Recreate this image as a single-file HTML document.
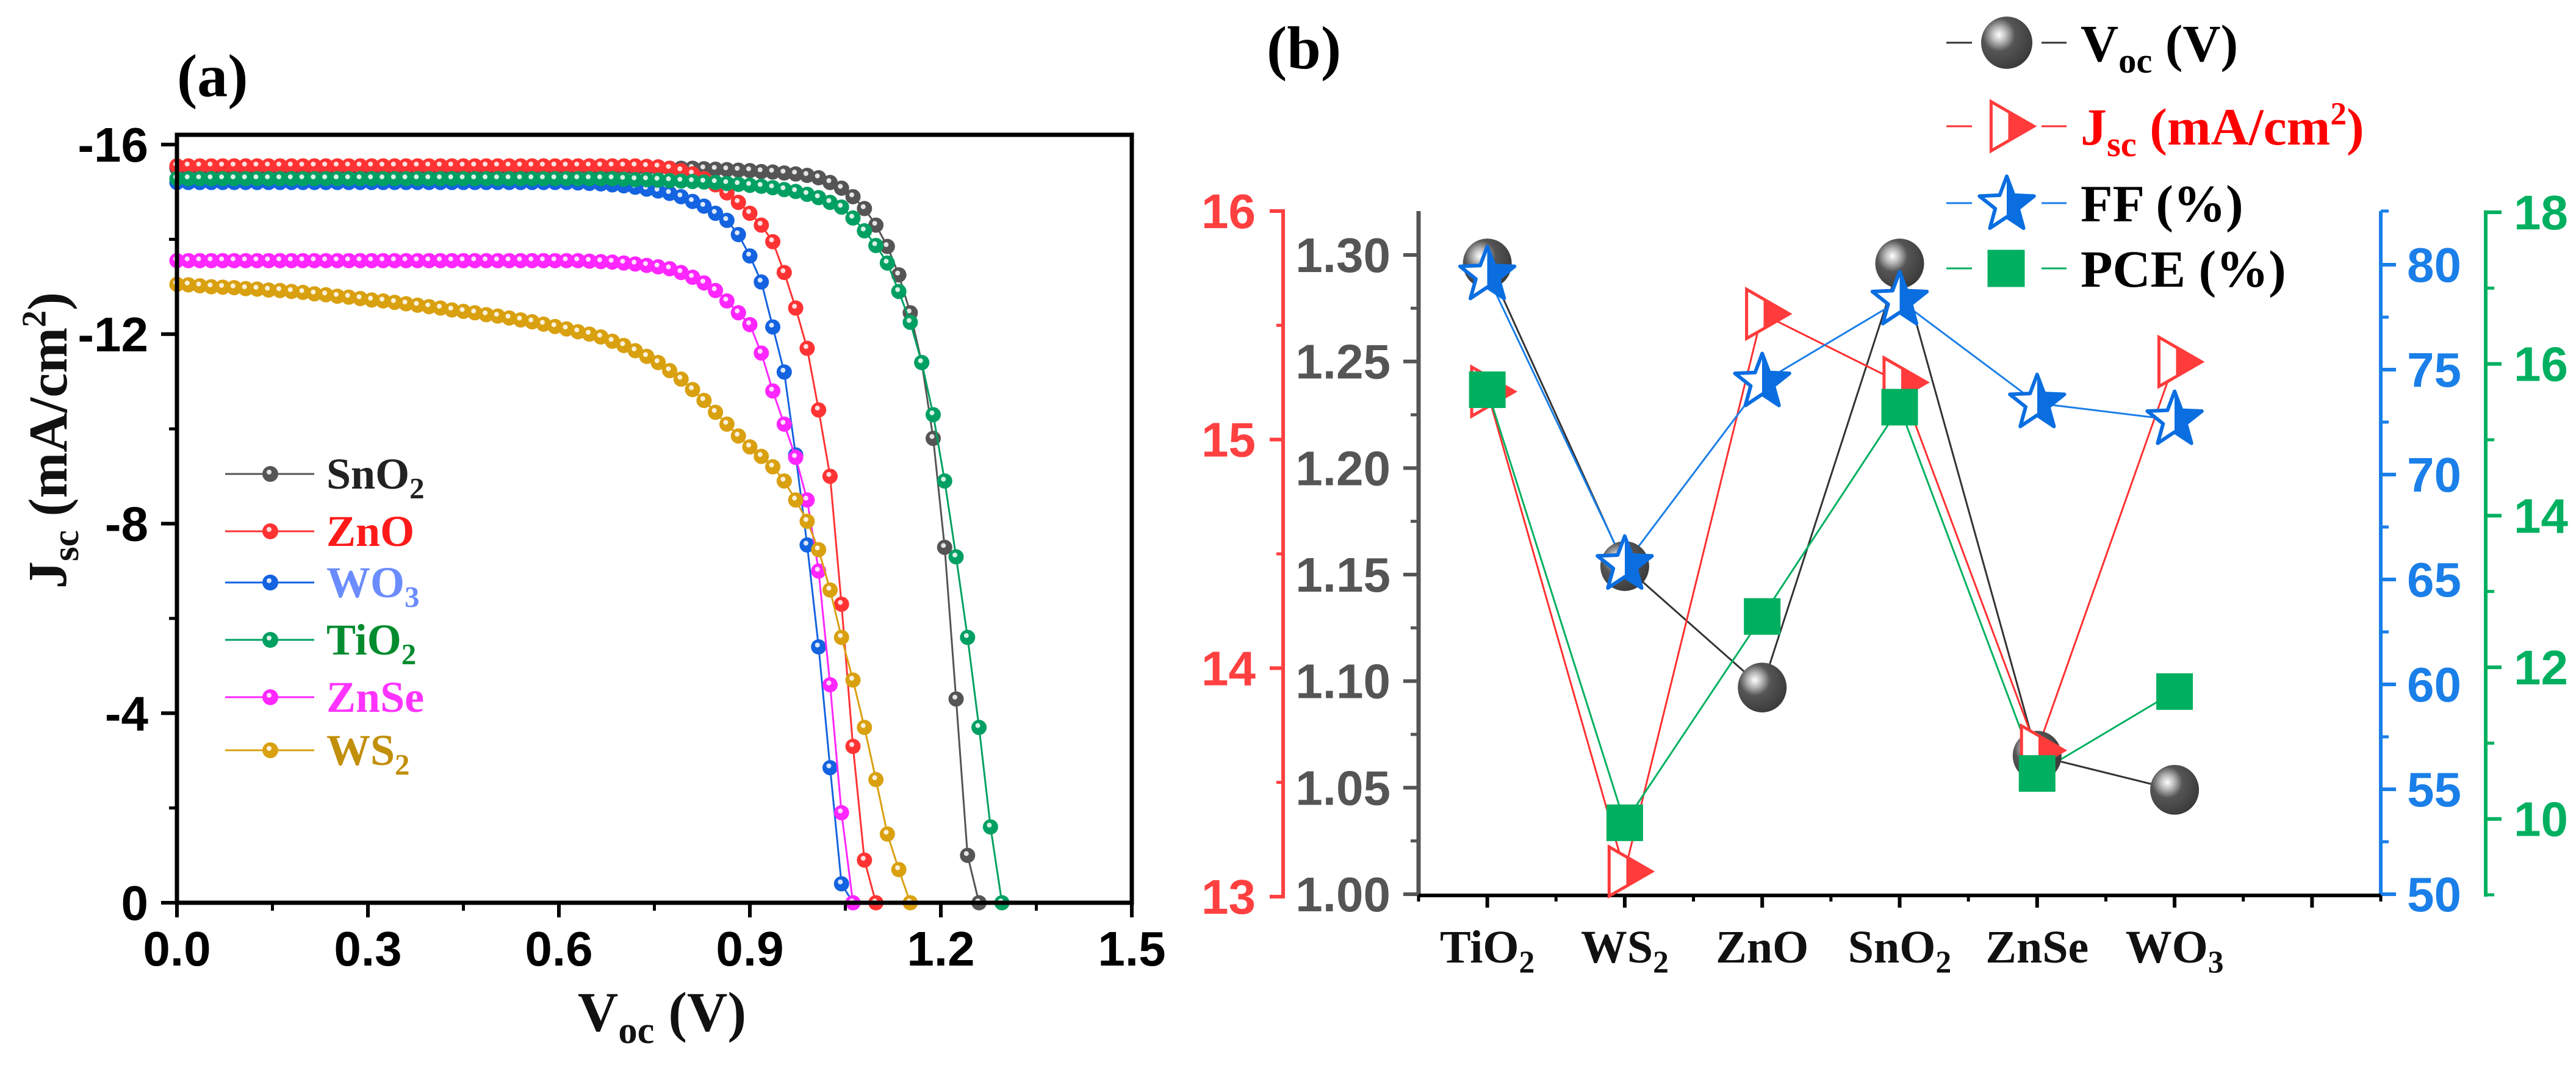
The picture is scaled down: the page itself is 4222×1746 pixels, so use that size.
<!DOCTYPE html>
<html><head><meta charset="utf-8">
<style>
html,body{margin:0;padding:0;background:#fff;}
svg{display:block;}
text{font-family:"Liberation Serif",serif;font-weight:bold;}
.num{font-family:"Liberation Sans",sans-serif;font-weight:bold;}
</style></head>
<body>
<svg id="fig" width="4222" height="1746" viewBox="0 0 4222 1746" xmlns="http://www.w3.org/2000/svg">
<defs>
<radialGradient id="sph" cx="0.35" cy="0.35" r="0.7">
<stop offset="0" stop-color="#ffffff"/><stop offset="0.2" stop-color="#bbbbbb"/><stop offset="0.45" stop-color="#555555"/><stop offset="1" stop-color="#3a3a3a"/>
</radialGradient>
<linearGradient id="halfBlue" x1="0" x2="1" y1="0" y2="0">
<stop offset="0.5" stop-color="#ffffff"/><stop offset="0.5" stop-color="#0a6ee0"/>
</linearGradient>
<linearGradient id="halfRed" x1="0" x2="1" y1="0" y2="0">
<stop offset="0.4" stop-color="#ffffff"/><stop offset="0.4" stop-color="#ff3b3b"/>
</linearGradient>
</defs>
<g id="panelA"></g>
<g id="panelB"></g>
</svg>
<script>
// ---------- Panel (a) data: J-V curves, voltage grid step 0.018 V ----------
const vStep = 0.018;
const xTicksA = [0.0, 0.3, 0.6, 0.9, 1.2, 1.5];
const yTicksA = [-16, -12, -8, -4, 0];
const curveNames = ["SnO2","ZnO","WO3","TiO2","ZnSe","WS2"];
const jSnO2 = [15.5,15.5,15.5,15.5,15.5,15.5,15.5,15.5,15.5,15.5,15.5,15.5,15.5,15.5,15.5,15.5,15.5,15.5,15.5,15.5,15.5,15.5,15.5,15.5,15.5,15.5,15.5,15.5,15.5,15.5,15.5,15.5,15.5,15.5,15.5,15.5,15.5,15.5,15.5,15.5,15.5,15.5,15.5,15.5,15.5,15.5,15.49,15.48,15.47,15.46,15.45,15.43,15.42,15.4,15.38,15.35,15.3,15.2,15.08,14.9,14.65,14.3,13.85,13.25,12.45,11.4,9.8,7.5,4.3,1.0,0];
const jZnO = [15.55,15.55,15.55,15.55,15.55,15.55,15.55,15.55,15.55,15.55,15.55,15.55,15.55,15.55,15.55,15.55,15.55,15.55,15.55,15.55,15.55,15.55,15.55,15.55,15.55,15.55,15.55,15.55,15.55,15.55,15.55,15.55,15.55,15.55,15.55,15.55,15.55,15.55,15.55,15.55,15.55,15.54,15.53,15.5,15.45,15.38,15.28,15.15,14.98,14.78,14.55,14.3,13.95,13.3,12.55,11.7,10.4,9.0,6.3,3.3,0.9,0];
const jWO3 = [15.2,15.2,15.2,15.2,15.2,15.2,15.2,15.2,15.2,15.2,15.2,15.2,15.2,15.2,15.2,15.2,15.2,15.2,15.2,15.2,15.2,15.2,15.2,15.2,15.2,15.2,15.2,15.2,15.2,15.2,15.2,15.2,15.2,15.2,15.2,15.19,15.18,15.17,15.15,15.13,15.1,15.06,15.02,14.97,14.9,14.8,14.7,14.55,14.4,14.1,13.65,13.1,12.15,11.2,9.45,7.55,5.4,2.85,0.4,0];
const jTiO2 = [15.28,15.28,15.28,15.28,15.28,15.28,15.28,15.28,15.28,15.28,15.28,15.28,15.28,15.28,15.28,15.28,15.28,15.28,15.28,15.28,15.28,15.28,15.28,15.28,15.28,15.28,15.28,15.28,15.28,15.28,15.28,15.28,15.28,15.28,15.28,15.28,15.28,15.28,15.28,15.27,15.26,15.26,15.25,15.24,15.23,15.22,15.21,15.2,15.18,15.16,15.14,15.12,15.09,15.05,15.01,14.95,14.88,14.78,14.68,14.45,14.18,13.87,13.5,12.9,12.25,11.4,10.3,8.9,7.3,5.6,3.7,1.6,0];
const jZnSe = [13.55,13.55,13.55,13.55,13.55,13.55,13.55,13.55,13.55,13.55,13.55,13.55,13.55,13.55,13.55,13.55,13.55,13.55,13.55,13.55,13.55,13.55,13.55,13.55,13.55,13.55,13.55,13.55,13.55,13.55,13.55,13.55,13.55,13.55,13.55,13.55,13.54,13.53,13.52,13.5,13.48,13.45,13.42,13.38,13.3,13.2,13.08,12.92,12.7,12.45,12.2,11.6,10.8,10.1,9.4,8.5,7.0,4.6,1.9,0];
const jWS2 = [13.05,13.04,13.02,13.0,12.99,12.98,12.96,12.95,12.93,12.92,12.9,12.88,12.85,12.83,12.8,12.78,12.75,12.72,12.7,12.67,12.64,12.61,12.58,12.55,12.51,12.48,12.45,12.41,12.38,12.34,12.3,12.26,12.21,12.16,12.11,12.05,12.0,11.94,11.85,11.76,11.65,11.53,11.4,11.23,11.05,10.83,10.6,10.35,10.1,9.85,9.62,9.42,9.2,8.9,8.5,8.05,7.45,6.6,5.6,4.7,3.7,2.6,1.45,0.7,0];
const curveData = [jSnO2, jZnO, jWO3, jTiO2, jZnSe, jWS2];
const curveColors = ["#555555","#ff3333","#1463e0","#00a062","#ff26ff","#d9a010"];
const legendTextColors = ["#222222","#ff1a1a","#6b8cff","#008c2e","#ff33ff","#c28f0a"];

// ---------- Panel (b) data ----------
const categories = ["TiO2","WS2","ZnO","SnO2","ZnSe","WO3"];
const vocVals = [1.296, 1.154, 1.097, 1.296, 1.065, 1.049];
const jscVals = [15.21, 13.11, 15.55, 15.25, 13.64, 15.34];
const ffVals = [79.5, 65.7, 74.4, 78.3, 73.4, 72.6];
const pceVals = [15.66, 9.95, 12.67, 15.43, 10.6, 11.68];
const vocTicks = ["1.00","1.05","1.10","1.15","1.20","1.25","1.30"];
const jscTicks = [13, 14, 15, 16];
const ffTicks = [50, 55, 60, 65, 70, 75, 80];
const pceTicks = [10, 12, 14, 16, 18];

const NS = "http://www.w3.org/2000/svg";
function mk(tag, attrs, parent){
  const e = document.createElementNS(NS, tag);
  for (const k in attrs) e.setAttribute(k, attrs[k]);
  if (parent) parent.appendChild(e);
  return e;
}
function subText(parent, x, y, parts, size, fill, anchor, extraCls){
  const t = mk("text", {x:x, y:y, "font-size":size, fill:fill, "text-anchor":anchor||"start"}, parent);
  if (extraCls) t.setAttribute("class", extraCls);
  parts.forEach(p=>{
    const s = mk("tspan", {}, t);
    s.textContent = p[0];
    if (p[1]==="sub"){ s.setAttribute("font-size", size*0.68); s.setAttribute("dy", size*0.22); }
    if (p[1]==="sup"){ s.setAttribute("font-size", size*0.62); s.setAttribute("dy", -size*0.38); }
    if (p[1]==="back"){ s.setAttribute("dy", p[2]); }
  });
  return t;
}
function splitFormula(name){
  const m = name.match(/^([A-Za-z]+?)(\d)$/);
  if (m) return [[m[1]],[m[2],"sub"]];
  return [[name]];
}

// ================= PANEL A =================
const A = document.getElementById("panelA");
const ax = {l:290, r:1855, t:221, b:1480};
const xA = v => ax.l + v/1.5*(ax.r-ax.l);
const yA = j => 1480 - (j/16)*(1480-237);   // j is |J|, axis shows negative values upward

// curves
curveData.forEach((arr, ci)=>{
  const g = mk("g", {}, A);
  
  
  const pts = arr.map((j,i)=> xA(i*vStep).toFixed(1)+","+yA(j).toFixed(1)).join(" ");
  mk("polyline", {points:pts, fill:"none", stroke:curveColors[ci], "stroke-width":3}, g);
  arr.forEach((j,i)=>{
    const cx = xA(i*vStep), cy = yA(j);
    const c = mk("circle", {cx:cx, cy:cy, r:12.5, fill:curveColors[ci]}, g);
    
    
    mk("circle", {cx:cx-2, cy:cy-3, r:4, fill:"#ffffff", opacity:0.85}, g);
  });
});

// frame
const frame = mk("rect", {x:ax.l, y:ax.t, width:ax.r-ax.l, height:ax.b-ax.t, fill:"none", stroke:"#000", "stroke-width":7}, A);



// x ticks
xTicksA.forEach(v=>{
  mk("line", {x1:xA(v), x2:xA(v), y1:ax.b, y2:ax.b+24, stroke:"#000", "stroke-width":6}, A);
  const t = mk("text", {x:xA(v), y:1583, "font-size":80, "text-anchor":"middle", fill:"#000", class:"num"}, A);
  t.textContent = v.toFixed(1);
  
  
});
for (let k=0;k<5;k++){ const v=0.15+0.3*k; mk("line", {x1:xA(v), x2:xA(v), y1:ax.b, y2:ax.b+13, stroke:"#000", "stroke-width":5}, A); }
// y ticks
yTicksA.forEach(v=>{
  const y = yA(-v);
  mk("line", {x1:ax.l-26, x2:ax.l, y1:y, y2:y, stroke:"#000", "stroke-width":6}, A);
  const t = mk("text", {x:243, y:y+28, "font-size":80, "text-anchor":"end", fill:"#000", class:"num"}, A);
  t.textContent = String(v);
  
  
});
for (let k=0;k<4;k++){ const y=yA(2+4*k); mk("line", {x1:ax.l-13, x2:ax.l, y1:y, y2:y, stroke:"#000", "stroke-width":5}, A); }

// titles
const yt = subText(A, 0, 0, [["J"],["sc","sub"],[" (mA/cm","back",-19],["2","sup"],[")","back",33]], 90, "#111", "middle");
yt.setAttribute("transform","translate(108,722) rotate(-90)");


const xt = subText(A, 1085, 1690, [["V"],["oc","sub"],[" (V)","back",-20]], 92, "#111", "middle");


const la = mk("text", {x:290, y:158, "font-size":100, fill:"#000"}, A);
la.textContent = "(a)";



// legend a
const legYs = [777, 871, 955, 1049, 1143, 1230];
curveNames.forEach((n,i)=>{
  const g = mk("g", {}, A);
  
  
  const y = legYs[i];
  mk("line", {x1:369, x2:515, y1:y, y2:y, stroke:curveColors[i], "stroke-width":3}, g);
  mk("circle", {cx:443, cy:y, r:13, fill:curveColors[i]}, g);
  mk("circle", {cx:441, cy:y-3, r:4, fill:"#fff", opacity:0.85}, g);
  subText(g, 535, y+24, splitFormula(n), 72, legendTextColors[i], "start");
});

// ================= PANEL B =================
const B = document.getElementById("panelB");
const bx = {l:2325, r:3902, t:346, b:1468};
const xB = i => bx.l + (i+0.5)*(bx.r-bx.l)/7;
const yVoc = v => 1466 - (v-1.0)/0.30*(1466-418);
const yJsc = v => 1470 - (v-13)/3*(1470-346);
const yFF = v => 1466 - (v-50)/30*(1466-434);
const yPCE = v => 1467 - (v-9)/9*(1467-348);

// axes: red (Jsc)
const redAx = mk("g", {}, B);


mk("line", {x1:2103, x2:2103, y1:yJsc(16)-3, y2:yJsc(13)+3, stroke:"#ff4040", "stroke-width":6}, redAx);
jscTicks.forEach(v=>{
  mk("line", {x1:2081, x2:2103, y1:yJsc(v), y2:yJsc(v), stroke:"#ff4040", "stroke-width":6}, redAx);
  const t = mk("text", {x:2058, y:yJsc(v)+28, "font-size":80, "text-anchor":"end", fill:"#ff4040", class:"num"}, redAx);
  t.textContent = String(v);
});
[13.5,14.5,15.5].forEach(v=> mk("line", {x1:2092, x2:2103, y1:yJsc(v), y2:yJsc(v), stroke:"#ff4040", "stroke-width":5}, redAx));

// gray (Voc)
const grayAx = mk("g", {}, B);


mk("line", {x1:bx.l, x2:bx.l, y1:bx.t, y2:bx.b, stroke:"#555", "stroke-width":7}, grayAx);
vocTicks.forEach(s=>{
  const v = parseFloat(s);
  mk("line", {x1:2300, x2:bx.l, y1:yVoc(v), y2:yVoc(v), stroke:"#555", "stroke-width":6}, grayAx);
  const t = mk("text", {x:2279, y:yVoc(v)+28, "font-size":80, "text-anchor":"end", fill:"#555", class:"num"}, grayAx);
  t.textContent = s;
});
for (let k=0;k<6;k++){ const v=1.025+0.05*k; mk("line", {x1:2312, x2:bx.l, y1:yVoc(v), y2:yVoc(v), stroke:"#555", "stroke-width":5}, grayAx); }

// blue (FF)
const blueAx = mk("g", {}, B);


mk("line", {x1:3902, x2:3902, y1:bx.t, y2:1468, stroke:"#1a7fe8", "stroke-width":6}, blueAx);
mk("line", {x1:3902, x2:3915, y1:bx.t, y2:bx.t, stroke:"#1a7fe8", "stroke-width":5}, blueAx);
ffTicks.forEach(v=>{
  mk("line", {x1:3902, x2:3927, y1:yFF(v), y2:yFF(v), stroke:"#1a7fe8", "stroke-width":6}, blueAx);
  const t = mk("text", {x:3945, y:yFF(v)+28, "font-size":80, fill:"#1a7fe8", class:"num"}, blueAx);
  t.textContent = String(v);
});
for (let k=0;k<6;k++){ const v=52.5+5*k; mk("line", {x1:3902, x2:3915, y1:yFF(v), y2:yFF(v), stroke:"#1a7fe8", "stroke-width":5}, blueAx); }

// green (PCE)
const greenAx = mk("g", {}, B);


mk("line", {x1:4074, x2:4074, y1:yPCE(18)-3, y2:yPCE(9)+3, stroke:"#00b060", "stroke-width":6}, greenAx);
pceTicks.forEach(v=>{
  mk("line", {x1:4074, x2:4100, y1:yPCE(v), y2:yPCE(v), stroke:"#00b060", "stroke-width":6}, greenAx);
  const t = mk("text", {x:4120, y:yPCE(v)+28, "font-size":80, fill:"#00b060", class:"num"}, greenAx);
  t.textContent = String(v);
});
[9,11,13,15,17].forEach(v=> mk("line", {x1:4074, x2:4088, y1:yPCE(v), y2:yPCE(v), stroke:"#00b060", "stroke-width":5}, greenAx));

// x axis b
const xAxB = mk("g", {}, B);


mk("line", {x1:bx.l, x2:bx.r, y1:bx.b, y2:bx.b, stroke:"#000", "stroke-width":6}, xAxB);
for (let i=0;i<7;i++){ mk("line", {x1:xB(i), x2:xB(i), y1:bx.b, y2:bx.b+20, stroke:"#000", "stroke-width":6}, xAxB); }
for (let i=0;i<=7;i++){ const x = bx.l + i*(bx.r-bx.l)/7; mk("line", {x1:x, x2:x, y1:bx.b, y2:bx.b+10, stroke:"#000", "stroke-width":5}, xAxB); }
categories.forEach((c,i)=>{
  const t = subText(xAxB, xB(i), 1578, splitFormula(c), 76, "#111", "middle");
  
  
});

// series lines
function seriesLine(vals, yf, color, name){
  const pts = vals.map((v,i)=> xB(i).toFixed(1)+","+yf(v).toFixed(1)).join(" ");
  const p = mk("polyline", {points:pts, fill:"none", stroke:color, "stroke-width":3}, B);
  
  
}
seriesLine(vocVals, yVoc, "#333", "voc-line");
seriesLine(jscVals, yJsc, "#ff3030", "jsc-line");
seriesLine(ffVals, yFF, "#1a7fe8", "ff-line");
seriesLine(pceVals, yPCE, "#00b060", "pce-line");

function sphere(g, cx, cy, r){ mk("ellipse", {cx:cx, cy:cy, rx:r, ry:r*1.02, fill:"url(#sph)"}, g); }
function tri(g, cx, cy, s){
  const pts = [[cx-s*0.6,cy-s*0.72],[cx+s*0.65,cy],[cx-s*0.6,cy+s*0.72]].map(p=>p.join(",")).join(" ");
  mk("polygon", {points:pts, fill:"url(#halfRed)", stroke:"#ff3b3b", "stroke-width":5}, g);
}
function star(g, cx, cy, R){
  const pts=[];
  for (let k=0;k<10;k++){ const a=-Math.PI/2+k*Math.PI/5; const r=k%2?R*0.42:R; pts.push((cx+r*Math.cos(a)).toFixed(1)+","+(cy+r*Math.sin(a)).toFixed(1)); }
  mk("polygon", {points:pts.join(" "), fill:"url(#halfBlue)", stroke:"#0a6ee0", "stroke-width":6, "stroke-linejoin":"round"}, g);
}
function square(g, cx, cy, s){ mk("rect", {x:cx-s/2, y:cy-s/2, width:s, height:s, fill:"#00b060"}, g); }

categories.forEach((c,i)=>{
  const g1 = mk("g", {}, B);
  
  
  sphere(g1, xB(i), yVoc(vocVals[i]), 40);
});
categories.forEach((c,i)=>{
  const g2 = mk("g", {}, B);
  
  
  tri(g2, xB(i)+8, yJsc(jscVals[i]), 56);
});
categories.forEach((c,i)=>{
  const g3 = mk("g", {}, B);
  
  
  star(g3, xB(i), yFF(ffVals[i]), 47);
});
categories.forEach((c,i)=>{
  const g4 = mk("g", {}, B);
  
  
  square(g4, xB(i), yPCE(pceVals[i]), 60);
});

const lb = mk("text", {x:2076, y:112, "font-size":100, fill:"#000"}, B);
lb.textContent = "(b)";



// legend b
const legB = [
  {y:70, color:"#333", txt:[["V"],["oc","sub"],[" (V)","back",-19]], tc:"#000", name:"legend-entry-voc", m:"sph"},
  {y:207, color:"#ff3030", txt:[["J"],["sc","sub"],[" (mA/cm","back",-19],["2","sup"],[")","back",33]], tc:"#ff0000", name:"legend-entry-jsc", m:"tri"},
  {y:333, color:"#1a7fe8", txt:[["FF (%)"]], tc:"#000", name:"legend-entry-ff", m:"star"},
  {y:440, color:"#00b060", txt:[["PCE (%)"]], tc:"#000", name:"legend-entry-pce", m:"sq"}
];
legB.forEach(e=>{
  const g = mk("g", {}, B);
  
  
  mk("line", {x1:3190, x2:3232, y1:e.y, y2:e.y, stroke:e.color, "stroke-width":3}, g);
  mk("line", {x1:3346, x2:3387, y1:e.y, y2:e.y, stroke:e.color, "stroke-width":3}, g);
  if (e.m==="sph") sphere(g, 3289, e.y, 42);
  if (e.m==="tri") tri(g, 3297, e.y, 56);
  if (e.m==="star") star(g, 3289, e.y+3, 47);
  if (e.m==="sq") square(g, 3288, e.y, 61);
  subText(g, 3410, e.y+30, e.txt, 86, e.tc, "start");
});
</script>
</body></html>
